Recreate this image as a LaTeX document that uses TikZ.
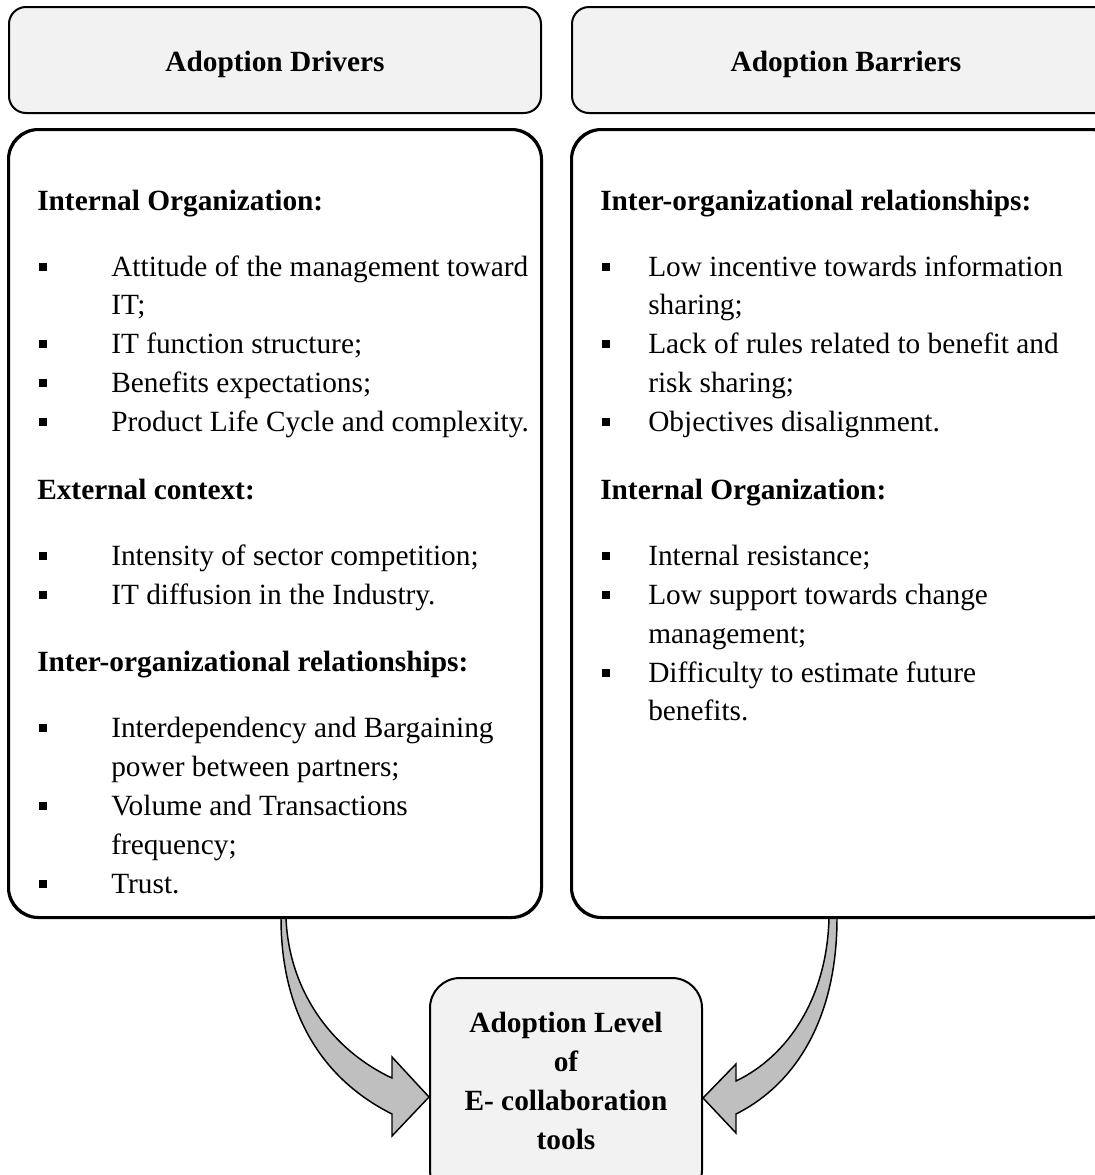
\documentclass[tikz,border=0pt]{standalone}
\usepackage{fontspec}
\setmainfont{Liberation Serif}
\usetikzlibrary{calc}
\definecolor{boxgray}{HTML}{F2F2F2}
\definecolor{arrowgray}{HTML}{BFBFBF}
\newcommand\bodysize{\fontsize{22pt}{29.5pt}\selectfont}
% one heading line of a column: name, box left x, baseline y, text
\newcommand\colhead[4]{\node[txt,font=\bodysize\bfseries] (#1) at ($(#2,#3)+(28,0)$) {#4};}
% one bulleted line: name, box left x, text indent, baseline y, text
\newcommand\colitem[5]{%
  \fill ($(#2,#4)+(29.5,-13.5)$) rectangle +(8,8);
  \node[txt] (#1) at ($(#2,#4)+(#3,0)$) {#5};}
% continuation of a bulleted line
\newcommand\colcont[5]{\node[txt] (#1) at ($(#2,#4)+(#3,0)$) {#5};}
\begin{document}
\begin{tikzpicture}[x=0.75pt,y=-0.75pt,
  frame/.style={draw, line width=1.5pt, inner sep=0pt, rounded corners=22.5pt},
  header/.style={frame, fill=boxgray, rounded corners=12.75pt, minimum height=79.5pt},
  txt/.style={inner sep=0pt, anchor=base west, font=\bodysize},
  bold/.style={txt, anchor=base, font=\bodysize\bfseries},
  bigarrow/.style={draw, line width=1.1pt, fill=arrowgray, line join=miter}]
\useasboundingbox (0,0) rectangle (1095,1175);
\clip (0,0) rectangle (1095,1175);

% column boxes
\node[frame, fill=white, minimum width=399pt, minimum height=590.25pt] (drv) at (275,523.5) {};
\node[frame, fill=white, minimum width=411pt, minimum height=590.25pt] (bar) at (846,523.5) {};

% result box
\node[frame, fill=boxgray, minimum width=204pt, minimum height=166.5pt] (lvl) at (566,1089) {};

% curved arrows from the column boxes into the result box
\coordinate (lA) at ($(drv.south west)+(273,0)$);
\coordinate (lB) at ($(drv.south west)+(278,0)$);
\coordinate (rA) at ($(bar.south west)+(266,0)$);
\coordinate (rB) at ($(bar.south west)+(258,0)$);
\coordinate (lTip) at ($(lvl.west)+(0,8)$);
\coordinate (rTip) at ($(lvl.east)+(0,9)$);
\draw[bigarrow] (lA) .. controls +(0,95) and +(-70,-35) .. ($(lTip)+(-37,17)$)
  -- ($(lTip)+(-37,39)$) -- (lTip) -- ($(lTip)+(-37,-40)$) -- ($(lTip)+(-37,-19)$)
  .. controls +(-58,-27) and +(3,75) .. (lB) -- cycle;
\draw[bigarrow] (rA) .. controls +(0,100) and +(60,-30) .. ($(rTip)+(33,16)$)
  -- ($(rTip)+(33,35)$) -- (rTip) -- ($(rTip)+(33,-34)$) -- ($(rTip)+(33,-17)$)
  .. controls +(52,-25) and +(-2,80) .. (rB) -- cycle;

% redraw the box outlines over the arrow ends
\draw[line width=1.5pt, rounded corners=22.5pt] (drv.south west) rectangle (drv.north east);
\draw[line width=1.5pt, rounded corners=22.5pt] (bar.south west) rectangle (bar.north east);

% header boxes
\node[header, minimum width=399pt] (hdrL) at (275,60) {};
\node[header, minimum width=411pt] (hdrR) at (846,60) {};
\node[bold] (hdrLt) at ($(hdrL.center)+(0,11)$) {Adoption Drivers};
\node[bold] (hdrRt) at ($(hdrR.center)+(0,11)$) {Adoption Barriers};

% drivers column
\colhead{d1}{9}{210}{Internal Organization:}
\colitem{d2}{9}{102}{276}{Attitude of the management toward}
\colcont{d3}{9}{102}{314.8}{IT;}
\colitem{d4}{9}{102}{353.7}{IT function structure;}
\colitem{d5}{9}{102}{392.7}{Benefits expectations;}
\colitem{d6}{9}{102}{431.6}{Product Life Cycle and complexity.}
\colhead{d7}{9}{499.3}{External context:}
\colitem{d8}{9}{102}{565.3}{Intensity of sector competition;}
\colitem{d9}{9}{102}{604.1}{IT diffusion in the Industry.}
\colhead{d10}{9}{671.8}{Inter-organizational relationships:}
\colitem{d11}{9}{102}{737.8}{Interdependency and Bargaining}
\colcont{d12}{9}{102}{776.7}{power between partners;}
\colitem{d13}{9}{102}{815.5}{Volume and Transactions}
\colcont{d14}{9}{102}{854.5}{frequency;}
\colitem{d15}{9}{102}{893.4}{Trust.}

% barriers column
\colhead{b1}{572}{210}{Inter-organizational relationships:}
\colitem{b2}{572}{76}{276}{Low incentive towards information}
\colcont{b3}{572}{76}{314.8}{sharing;}
\colitem{b4}{572}{76}{353.7}{Lack of rules related to benefit and}
\colcont{b5}{572}{76}{392.7}{risk sharing;}
\colitem{b6}{572}{76}{431.6}{Objectives disalignment.}
\colhead{b7}{572}{499.3}{Internal Organization:}
\colitem{b8}{572}{76}{565.3}{Internal resistance;}
\colitem{b9}{572}{76}{604.1}{Low support towards change}
\colcont{b10}{572}{76}{643}{management;}
\colitem{b11}{572}{76}{682}{Difficulty to estimate future}
\colcont{b12}{572}{76}{720.8}{benefits.}

% result box text
\node[bold] (c1) at (566,1032) {Adoption Level};
\node[bold] (c2) at (566,1071) {of};
\node[bold] (c3) at (566,1110) {E- collaboration};
\node[bold] (c4) at (566,1149) {tools};
\end{tikzpicture}
\end{document}
